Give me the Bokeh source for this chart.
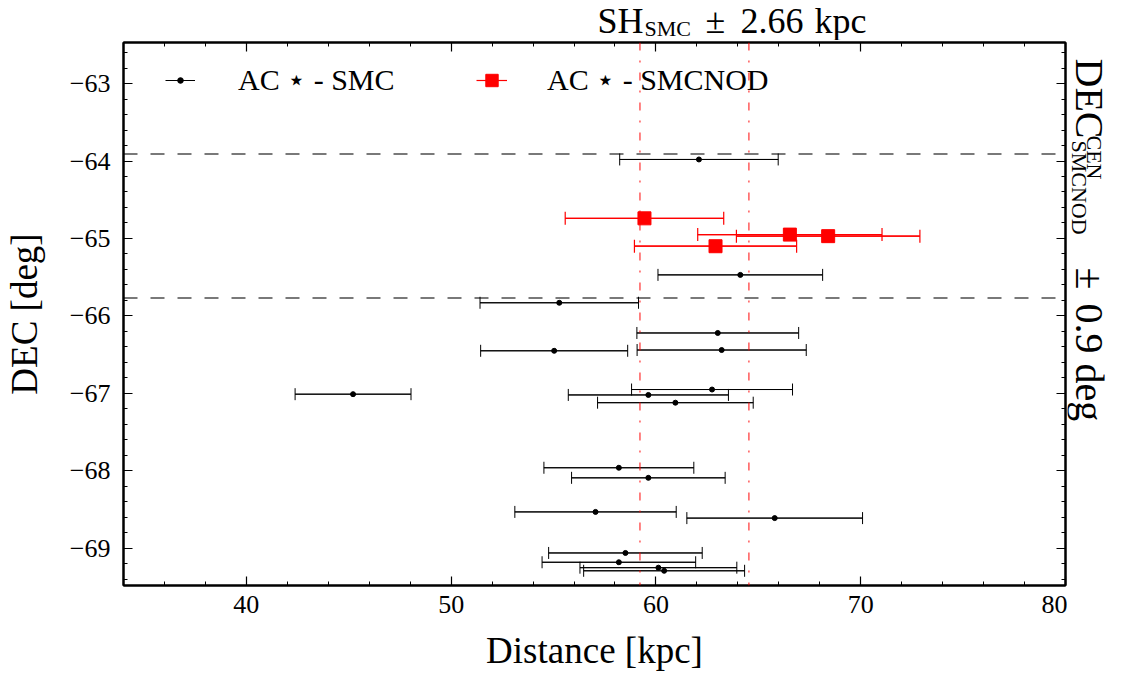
import numpy as np
from bokeh.plotting import figure
from bokeh.layouts import column, row
from bokeh.models import (ColumnDataSource, Range1d, SingleIntervalTicker, LinearAxis,
                          CustomJSTickFormatter, Span, Label, Legend, LegendItem,
                          Whisker, TeeHead)
from bokeh.embed import file_html
from bokeh.resources import INLINE

# ---------------- data ----------------
smc_dist = [62.10, 64.12, 55.28, 63.02, 55.03, 63.21, 45.21, 62.74, 59.63, 60.95,
            58.19, 59.63, 57.05, 65.80, 58.51, 58.19, 60.12, 60.40]
smc_dec = [-63.98, -65.47, -65.83, -66.22, -66.45, -66.44, -67.01, -66.95, -67.02, -67.12,
           -67.96, -68.09, -68.53, -68.61, -69.06, -69.18, -69.25, -69.29]
smc_err = [3.87, 4.02, 3.87, 3.95, 3.59, 4.13, 2.83, 3.93, 3.91, 3.80,
           3.66, 3.75, 3.94, 4.29, 3.75, 3.75, 3.83, 3.93]

nod_dist = [59.44, 66.54, 68.41, 62.91]
nod_dec = [-64.74, -64.95, -64.97, -65.10]
nod_err = [3.87, 4.50, 4.48, 3.96]

sh_center = 61.88
sh_halfwidth = 2.66
dec_bounds = [-63.91, -65.77]

x_major = 10
y_major = 1

FONT = "Liberation Serif"
W, H = 1129, 675
TOP_H = 40          # height of the strip holding the title
MAIN_W = 1067       # width of the main plot
FRAME_H = 543       # height of the plotting frame

# ---------------- main figure ----------------
p = figure(width=MAIN_W, height=H - TOP_H, x_range=Range1d(34, 80),
           y_range=Range1d(-69.48, -62.47),
           output_backend="svg", toolbar_location=None,
           min_border_left=121, min_border_right=2, min_border_top=2, min_border_bottom=90)
p.xgrid.visible = False
p.ygrid.visible = False
p.outline_line_color = "black"
p.outline_line_width = 2
p.background_fill_color = "white"
p.border_fill_color = "white"

xt = SingleIntervalTicker(interval=x_major, num_minor_ticks=5)
yt = SingleIntervalTicker(interval=y_major, num_minor_ticks=5)
yfmt = CustomJSTickFormatter(code="return (tick < 0 ? '\u2212' : '') + Math.abs(tick).toFixed(0);")
empty = CustomJSTickFormatter(code="return '';")

def style_axis(ax):
    ax.axis_line_color = "black"
    ax.axis_line_width = 2
    ax.major_tick_in = 9
    ax.major_tick_out = 0
    ax.minor_tick_in = 4
    ax.minor_tick_out = 0
    ax.major_tick_line_color = "black"
    ax.minor_tick_line_color = "black"
    ax.major_tick_line_width = 1.2
    ax.minor_tick_line_width = 1
    ax.major_label_text_font = FONT
    ax.major_label_text_font_size = "26px"
    ax.major_label_text_color = "black"
    ax.axis_label_text_font = FONT
    ax.axis_label_text_font_style = "normal"
    ax.axis_label_text_font_size = "37px"
    ax.axis_label_text_color = "black"

xa = p.xaxis[0]
xa.ticker = xt
style_axis(xa)
xa.axis_label = "Distance [kpc]"
xa.major_label_standoff = 10
xa.axis_label_standoff = 14

ya = p.yaxis[0]
ya.ticker = yt
ya.formatter = yfmt
style_axis(ya)
ya.axis_label = "DEC [deg]"
ya.major_label_standoff = 13
ya.axis_label_standoff = 22

top = LinearAxis(ticker=xt, formatter=empty)
style_axis(top)
top.major_label_text_font_size = "1px"
top.major_label_standoff = 0
p.add_layout(top, "above")
right = LinearAxis(ticker=yt, formatter=empty)
style_axis(right)
right.major_label_text_font_size = "1px"
right.major_label_standoff = 0
p.add_layout(right, "right")

# reference lines
for v in (sh_center - sh_halfwidth, sh_center + sh_halfwidth):
    p.add_layout(Span(location=v, dimension="height", line_color="red", line_alpha=0.75,
                      line_width=1.3, line_dash="8 10 2 10"))
for v in dec_bounds:
    p.add_layout(Span(location=v, dimension="width", line_color="black", line_alpha=0.7,
                      line_width=1.5, line_dash="14 13"))

# SMC error bars
smc = ColumnDataSource(dict(
    x=smc_dist, y=smc_dec,
    lo=[d - e for d, e in zip(smc_dist, smc_err)],
    hi=[d + e for d, e in zip(smc_dist, smc_err)]))
seg_b = p.segment(x0="lo", x1="hi", y0="y", y1="y", source=smc, line_color="black", line_width=1)
p.add_layout(Whisker(source=smc, base="y", lower="lo", upper="hi", dimension="width",
                     line_color="black", line_width=1,
                     upper_head=TeeHead(size=12, line_color="black", line_width=1),
                     lower_head=TeeHead(size=12, line_color="black", line_width=1)))
dot_b = p.scatter(x="x", y="y", source=smc, marker="circle", size=5, fill_color="black",
                  line_color="black")

# SMCNOD error bars
nod = ColumnDataSource(dict(
    x=nod_dist, y=nod_dec,
    lo=[d - e for d, e in zip(nod_dist, nod_err)],
    hi=[d + e for d, e in zip(nod_dist, nod_err)]))
seg_r = p.segment(x0="lo", x1="hi", y0="y", y1="y", source=nod, line_color="red", line_width=1.2)
p.add_layout(Whisker(source=nod, base="y", lower="lo", upper="hi", dimension="width",
                     line_color="red", line_width=1.2,
                     upper_head=TeeHead(size=13, line_color="red", line_width=1.2),
                     lower_head=TeeHead(size=13, line_color="red", line_width=1.2)))
sq_r = p.scatter(x="x", y="y", source=nod, marker="square", size=13, fill_color="red",
                 line_color="red")

# legends
leg1 = Legend(items=[LegendItem(label="AC \u22c6 - SMC", renderers=[seg_b, dot_b])],
              location=(42, 488), padding=0, margin=0, border_line_color=None,
              background_fill_alpha=0, glyph_width=30, glyph_height=14,
              label_standoff=43, label_text_font=FONT, label_text_font_size="30px",
              label_text_color="black")
leg2 = Legend(items=[LegendItem(label="AC \u22c6 - SMCNOD", renderers=[seg_r, sq_r])],
              location=(353, 488), padding=0, margin=0, border_line_color=None,
              background_fill_alpha=0, glyph_width=31, glyph_height=32,
              label_standoff=40, label_text_font=FONT, label_text_font_size="30px",
              label_text_color="black")
p.add_layout(leg1, "center")
p.add_layout(leg2, "center")

# ---------------- strips holding the outer texts ----------------
def strip(w, h, yr):
    f = figure(width=w, height=h, x_range=Range1d(0, w), y_range=Range1d(0, yr),
               x_axis_location=None, y_axis_location=None,
               output_backend="svg", toolbar_location=None, min_border=0)
    f.grid.visible = False
    f.outline_line_color = None
    f.background_fill_color = "white"
    f.border_fill_color = "white"
    return f

def lab(f, x, y, t, size, **kw):
    f.add_layout(Label(x=x, y=y, text=t, text_font=FONT, text_font_size=size,
                       text_color="black", text_baseline="middle", **kw))

# title  SH_SMC ± 2.66 kpc
t = strip(W, TOP_H, TOP_H)
lab(t, 597, 20, "SH", "36px")
lab(t, 644, 12.3, "SMC", "22px")
lab(t, 705, 20, "\u00b1", "36px")
lab(t, 740, 20, "2.66", "36px")
lab(t, 814, 20, "kpc", "36px")

# right label  DEC^CEN_SMCNOD ± 0.9 deg  (rotated, reading downward);
# this strip's frame lines up with the main frame (y measured up from its bottom)
r = strip(W - MAIN_W, H - TOP_H, FRAME_H)
ang = -np.pi / 2
lab(r, 22.4, 527, "DEC", "40px", angle=ang, text_align="left")
lab(r, 27.0, 450, "CEN", "22px", angle=ang, text_align="left")
lab(r, 12.4, 445, "SMCNOD", "22px", angle=ang, text_align="left")
lab(r, 22.4, 318, "\u00b1", "40px", angle=ang, text_align="left")
lab(r, 22.4, 282, "0.9 deg", "40px", angle=ang, text_align="left")

page = column(t, row(p, r))
open("out.html", "w").write(file_html(page, INLINE))
